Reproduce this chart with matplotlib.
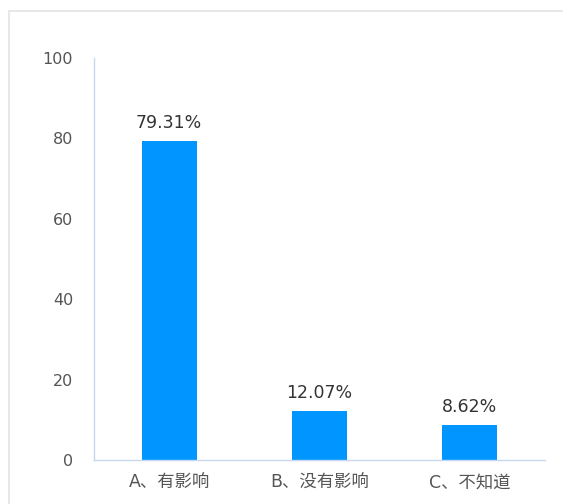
import matplotlib.pyplot as plt
from matplotlib.patches import Rectangle

plt.rcParams['font.family'] = ['DejaVu Sans', 'Noto Sans CJK SC']

categories = ["A、有影响", "B、没有影响", "C、不知道"]
values = [79.31, 12.07, 8.62]
value_labels = ["79.31%", "12.07%", "8.62%"]
yticks = [0, 20, 40, 60, 80, 100]

fig = plt.figure(figsize=(5.63, 5.04), dpi=100)
# light outer frame
fig.patches.append(Rectangle((9 / 563, -0.1), 1.2, (1 - 11 / 504) + 0.1,
                             transform=fig.transFigure, fill=False,
                             edgecolor="#e3e3e3", linewidth=1.2))

ax = fig.add_axes([94 / 563, 1 - 460 / 504, (545 - 94) / 563, (460 - 58) / 504])
x = range(len(categories))
bars = ax.bar(x, values, width=0.365, color="#0095ff")
for b, lab in zip(bars, value_labels):
    ax.text(b.get_x() + b.get_width() / 2, b.get_height() + 2.3, lab,
            ha="center", va="bottom", fontsize=12.5, color="#333333")

ax.set_xlim(-0.5, 2.5)
ax.set_ylim(0, 100)
ax.set_yticks(yticks)
ax.set_xticks(list(x))
ax.set_xticklabels(categories, fontsize=12.5)
ax.tick_params(axis="both", length=0, colors="#555555")
ax.tick_params(axis="y", pad=15, labelsize=11.5)
ax.tick_params(axis="x", pad=10)
for s in ["top", "right"]:
    ax.spines[s].set_visible(False)
for s in ["left", "bottom"]:
    ax.spines[s].set_color("#c6d8f2")
    ax.spines[s].set_linewidth(1)

fig.savefig("out.png", dpi=100)
